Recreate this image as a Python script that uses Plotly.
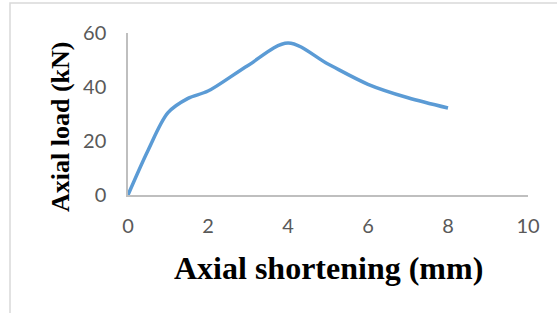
import plotly.graph_objects as go

shortening_mm = [0, 0.5, 1, 1.5, 2, 3, 4, 5, 6, 7, 8]
load_kN = [0, 16.5, 30.5, 35.8, 38.5, 48, 56.3, 48.5, 41, 36, 32.2]

x_ticks = [0, 2, 4, 6, 8, 10]
y_ticks = [0, 20, 40, 60]

W, H = 557, 313
L, R, T, B = 128, 29, 33, 118

fig = go.Figure()
fig.add_trace(go.Scatter(
    x=shortening_mm, y=load_kN, mode="lines",
    line=dict(color="#5B9BD5", width=3.5, shape="spline", smoothing=0.9),
    showlegend=False, hoverinfo="skip"))

tickfont = dict(family="Lato, Open Sans, sans-serif", size=20, color="#595959")
fig.update_layout(
    template="none",
    width=W, height=H,
    margin=dict(l=L, r=R, t=T, b=B, pad=0, autoexpand=False),
    paper_bgcolor="white", plot_bgcolor="white",
    xaxis=dict(range=[0, 10], tickvals=x_ticks, showgrid=False, zeroline=False,
               showline=True, linecolor="#BFBFBF", linewidth=1.5, automargin=False,
               ticks="", tickfont=tickfont, ticklabelstandoff=12),
    yaxis=dict(range=[0, 60], tickvals=y_ticks, showgrid=False, zeroline=False,
               showline=True, linecolor="#BFBFBF", linewidth=1.5, automargin=False,
               ticks="", tickfont=tickfont, ticklabelstandoff=16),
)

def px(xp):
    return (xp - L) / (W - L - R)

def py(yp):
    return (H - B - yp) / (H - T - B)

fig.add_annotation(text="<b>Axial shortening (mm)</b>", xref="paper", yref="paper",
                   x=px(328), y=py(268), xanchor="center", yanchor="middle", showarrow=False,
                   font=dict(family="Liberation Serif, Times New Roman, serif", size=32, color="black"))
fig.add_annotation(text="<b>Axial load (kN)</b>", xref="paper", yref="paper",
                   x=px(60), y=py(127), xanchor="center", yanchor="middle", showarrow=False,
                   textangle=-90,
                   font=dict(family="Liberation Serif, Times New Roman, serif", size=26, color="black"))

fig.add_shape(type="rect", xref="paper", yref="paper",
              x0=px(10), x1=px(560), y0=py(320), y1=py(3),
              line=dict(color="#D9D9D9", width=1.5), layer="below")

fig.write_html("out.html", config={"displayModeBar": False},
               post_script="document.body.style.margin='0';document.body.style.overflow='hidden';")
